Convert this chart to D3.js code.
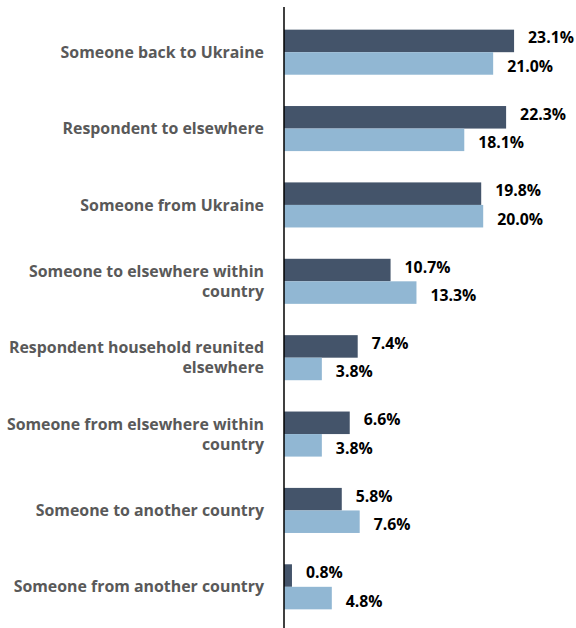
<!DOCTYPE html>
<html>
<head>
<meta charset="utf-8">
<script src="https://cdn.jsdelivr.net/npm/d3@7"></script>
<style>
  body { margin: 0; background: #fff; }
  text { font-family: "Open Sans", "Noto Sans", sans-serif; font-weight: bold; }
</style>
</head>
<body>
<div id="chart"></div>
<script>
var width = 576, height = 628

// categories, already broken into lines as in the picture
let categories = [
    ["Someone back to Ukraine"],
    ["Respondent to elsewhere"],
    ["Someone from Ukraine"],
    ["Someone to elsewhere within", "country"],
    ["Respondent household reunited", "elsewhere"],
    ["Someone from elsewhere within", "country"],
    ["Someone to another country"],
    ["Someone from another country"]
]
let seriesDark = [23.1, 22.3, 19.8, 10.7, 7.4, 6.6, 5.8, 0.8]
let seriesLight = [21.0, 18.1, 20.0, 13.3, 3.8, 3.8, 7.6, 4.8]

let colors = ["#44546a", "#91b7d3"]
let axisX = 284

let svg = d3.select("#chart")
    .append("svg")
    .attr("width", width)
    .attr("height", height)

let keys = categories.map(function (c) { return c.join(" ") })

let yScale = d3.scaleBand()
    .domain(keys)
    .range([14, 625])
    .paddingInner(0.41)
    .paddingOuter(0.205)

let xScale = d3.scaleLinear()
    .domain([0, 25])
    .range([axisX, axisX + 249])

let sub = d3.scaleBand()
    .domain([0, 1])
    .range([0, yScale.bandwidth()])

let rows = keys.map(function (k, i) {
    return { key: k, lines: categories[i], values: [seriesDark[i], seriesLight[i]] }
})

let groups = svg.selectAll(".group")
    .data(rows)
    .enter()
    .append("g")
    .attr("class", "group")
    .attr("transform", function (d) { return "translate(0," + yScale(d.key) + ")" })

groups.selectAll("rect")
    .data(function (d) { return d.values })
    .enter()
    .append("rect")
    .attr("x", xScale(0))
    .attr("y", function (d, i) { return sub(i) })
    .attr("width", function (d) { return xScale(d) - xScale(0) })
    .attr("height", sub.bandwidth())
    .style("fill", function (d, i) { return colors[i] })

// value labels
groups.selectAll(".value")
    .data(function (d) { return d.values })
    .enter()
    .append("text")
    .attr("class", "value")
    .attr("x", function (d) { return xScale(d) + 14 })
    .attr("y", function (d, i) { return sub(i) + sub.bandwidth() / 2 + (i == 0 ? -3 : 3) })
    .attr("dy", "0.35em")
    .style("font-size", "15.8px")
    .style("fill", "#000")
    .text(function (d) { return d.toFixed(1) + "%" })

// category labels
let labels = groups.append("text")
    .attr("text-anchor", "end")
    .style("font-size", "15.9px")
    .style("fill", "#595959")

labels.selectAll("tspan")
    .data(function (d) { return d.lines.map(function (l, j) { return { text: l, j: j, n: d.lines.length } }) })
    .enter()
    .append("tspan")
    .attr("x", 264)
    .attr("y", function (d) { return yScale.bandwidth() / 2 + (d.j - (d.n - 1) / 2) * 20 })
    .attr("dy", "0.35em")
    .text(function (d) { return d.text })

// vertical axis line
svg.append("line")
    .attr("x1", axisX)
    .attr("x2", axisX)
    .attr("y1", 7)
    .attr("y2", 628)
    .style("stroke", "#000")
    .style("stroke-width", 1.5)
</script>
</body>
</html>
